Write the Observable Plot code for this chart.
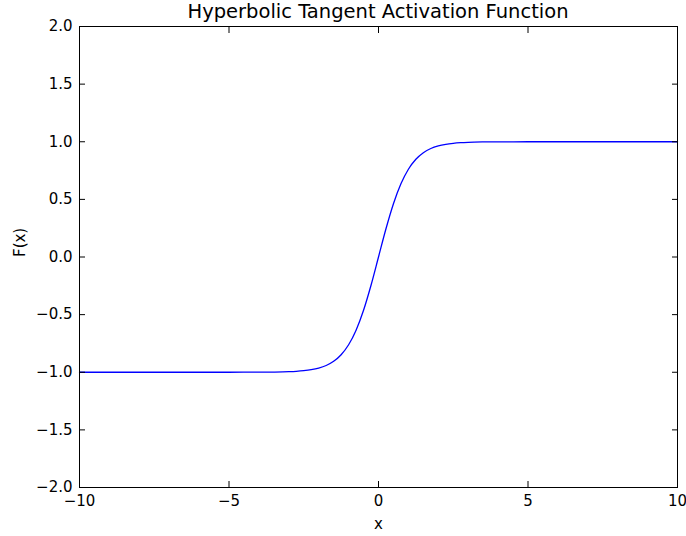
<!DOCTYPE html>
<html>
<head>
<meta charset="utf-8">
<script src="https://cdn.jsdelivr.net/npm/d3@7"></script>
<script src="https://cdn.jsdelivr.net/npm/@observablehq/plot@0.6"></script>
<style>
  html, body { margin: 0; padding: 0; background: #fff; }
  #chart { position: relative; width: 686px; height: 536px; }
  #title { position: absolute; left: 79px; width: 598px; top: 0px; text-align: center;
    font-family: "DejaVu Sans", sans-serif; font-size: 19.5px; color: #000; line-height: 24px; }
  #chart svg { position: absolute; left: 0; top: 0; }
</style>
</head>
<body>
<div id="chart"><div id="title">Hyperbolic Tangent Activation Function</div></div>
<script>
const title = "Hyperbolic Tangent Activation Function";
const xValues = [-10, -8, -6, -5, -4, -3.5, -3, -2.75, -2.5, -2.25, -2, -1.75, -1.5, -1.25, -1, -0.75, -0.5, -0.25,
  0, 0.25, 0.5, 0.75, 1, 1.25, 1.5, 1.75, 2, 2.25, 2.5, 2.75, 3, 3.5, 4, 5, 6, 8, 10];
const yValues = [-1.0, -1.0, -1.0, -0.9999, -0.9993, -0.9982, -0.9951, -0.9919, -0.9866, -0.978, -0.964, -0.9414, -0.9051, -0.8483, -0.7616, -0.6351, -0.4621, -0.2449,
  0, 0.2449, 0.4621, 0.6351, 0.7616, 0.8483, 0.9051, 0.9414, 0.964, 0.978, 0.9866, 0.9919, 0.9951, 0.9982, 0.9993, 0.9999, 1.0, 1.0, 1.0];
const xTicks = [-10, -5, 0, 5, 10];
const yTicks = [-2.0, -1.5, -1.0, -0.5, 0.0, 0.5, 1.0, 1.5, 2.0];
const xLabel = "x";
const yLabel = "F(x)";

const data = xValues.map((x, i) => ({x, y: yValues[i]}));
const fmtY = d => d3.format(".1f")(d).replace("-", "\u2212");
const fmtX = d => String(d).replace("-", "\u2212");

const chart = Plot.plot({
  width: 686,
  height: 536,
  marginLeft: 79,
  marginRight: 9,
  marginTop: 26,
  marginBottom: 49,
  style: {fontFamily: "DejaVu Sans, sans-serif", fontSize: "15px", color: "#000", background: "transparent"},
  x: {domain: [-10, 10]},
  y: {domain: [-2, 2]},
  marks: [
    Plot.line(data, {x: "x", y: "y", stroke: "#0000ff", strokeWidth: 1.3, curve: "monotone-x"}),
    Plot.axisX(xTicks, {anchor: "bottom", tickSize: 0, tickPadding: 8, tickFormat: fmtX, fontSize: 15, label: null}),
    Plot.axisY(yTicks, {anchor: "left", tickSize: 0, tickPadding: 7, tickFormat: fmtY, fontSize: 15, label: null}),
    Plot.axisX(xTicks, {anchor: "bottom", tickSize: -6, text: null, label: null}),
    Plot.axisX(xTicks, {anchor: "top", tickSize: -6, text: null, label: null}),
    Plot.axisY(yTicks, {anchor: "left", tickSize: -6, text: null, label: null}),
    Plot.axisY(yTicks, {anchor: "right", tickSize: -6, text: null, label: null}),
    Plot.frame({stroke: "#000", strokeWidth: 1, strokeOpacity: 1}),
    Plot.text([xLabel], {frameAnchor: "bottom", dy: 41, text: d => d, fontSize: 15}),
    Plot.text([yLabel], {frameAnchor: "left", dx: -59, rotate: -90, text: d => d, fontSize: 15})
  ]
});
document.getElementById("chart").appendChild(chart);
</script>
</body>
</html>
